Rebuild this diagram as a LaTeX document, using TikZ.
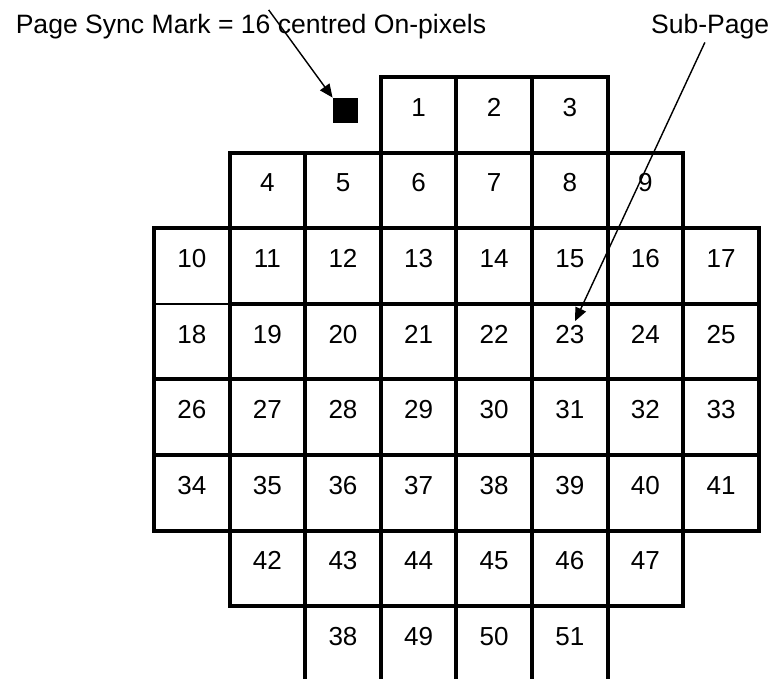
\documentclass[tikz,border=0pt]{standalone}
\usepackage{fontspec}
\setmainfont{Liberation Sans}
\usetikzlibrary{arrows.meta}

\tikzset{
    box/.style={black, line width=2.25pt},
    num/.style={font=\fontsize{14.7}{17}\selectfont, inner sep=2pt, anchor=base},
    lbl/.style={font=\fontsize{15}{18}\selectfont, inner sep=2pt},
    pointer/.style={line width=0.8pt, -{Triangle[length=7.5pt,width=6.5pt]}}
}

\begin{document}
\begin{tikzpicture}[x=1.5cm, y=1.5cm]
    \useasboundingbox (-2.037,-7.963) rectangle (8.254,1.019);
    % The cells, row by row.
        \foreach \col in {3,4,5} \draw[box] (\col,0) rectangle ++(1,-1);
        \foreach \col in {1,...,6} \draw[box] (\col,-1) rectangle ++(1,-1);
        \foreach \rowno in {2,...,5} \foreach \col in {1,...,7} \draw[box] (\col,-\rowno) rectangle ++(1,-1);
        \foreach \rowno in {4,5} \draw[box] (0,-\rowno) rectangle ++(1,-1);
        \draw[box] (0,-2) rectangle (1,-4);
        \draw[line width=1.1pt] (0,-3) -- (1,-3);
        \foreach \col in {1,...,6} \draw[box] (\col,-6) rectangle ++(1,-1);
        \foreach \col in {2,...,6} \draw[box] (\col,-7) -- (\col,-7.963);
    % Below nodes are the cell numbers.
        \foreach \rowno/\colno/\seq in {0/3/{1,2,3}, 1/1/{4,...,9}, 2/0/{10,...,17},
                3/0/{18,...,25}, 4/0/{26,...,33}, 5/0/{34,...,41}, 6/1/{42,...,47},
                7/2/{38,49,50,51}}
            \foreach \n [count=\k from 0] in \seq {
                \pgfmathtruncatemacro\col{\colno+\k}
                \node[num] (c-\rowno-\col) at (\col+0.5,-\rowno-0.52) {\n};
            }
    % The sync mark and the labels.
        \node[fill=black, minimum size=0.5cm, inner sep=0pt] (sync) at (2.533,-0.443) {};
        \node[lbl, anchor=base west] (syncl) at (-1.88,0.582) {Page Sync Mark = 16 centred On-pixels};
        \node[lbl, anchor=base east] (sub) at (8.19,0.582) {Sub-Page};
        \draw[pointer] ([xshift=10pt]syncl.north) -- (sync.north west);
        \draw[pointer] ([xshift=-3pt]sub.south) -- ([xshift=3pt]c-3-5.north);
\end{tikzpicture}
\end{document}
